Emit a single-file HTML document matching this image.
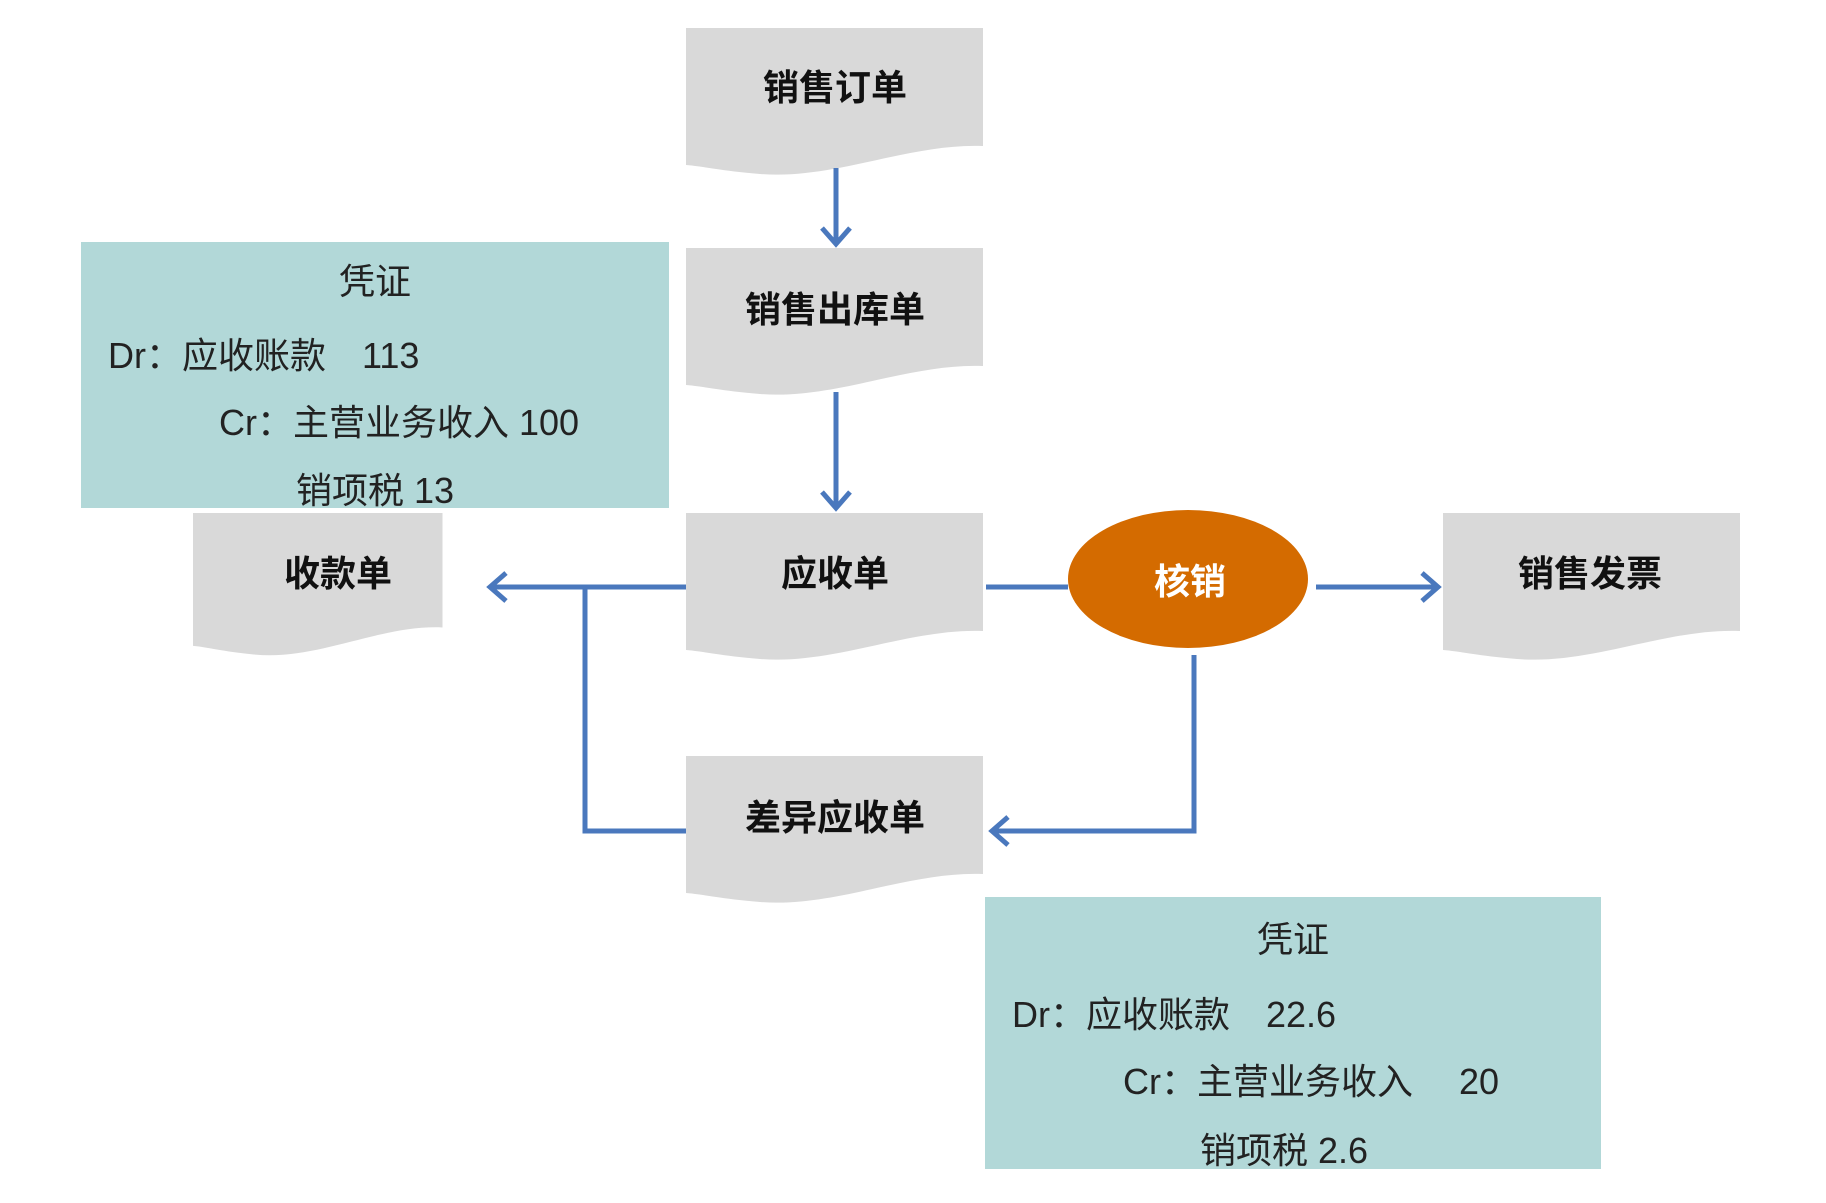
<!DOCTYPE html>
<html><head><meta charset="utf-8"><style>
html,body{margin:0;padding:0;background:#fff;}
svg{display:block}
.d{font-family:"Liberation Sans","Noto Sans CJK SC",sans-serif;font-weight:bold;font-size:36px;fill:#111;text-anchor:middle}
.v{font-family:"Liberation Sans","Noto Sans CJK SC",sans-serif;font-size:36px;fill:#222}
</style></head><body>
<svg width="1826" height="1203" viewBox="0 0 1826 1203" xmlns="http://www.w3.org/2000/svg">
<defs>
<path id="doc" d="M0,0 H297 V118 C223,115 149,152 74,146 C36,143 15,138 0,137 Z" fill="#d9d9d9"/>
<marker id="ah" markerWidth="10" markerHeight="10" refX="8" refY="5" orient="auto" markerUnits="userSpaceOnUse" viewBox="0 0 10 10">
</marker>
</defs>
<!-- vouchers -->
<rect x="81" y="242" width="588" height="266" fill="#b2d8d8"/>
<text class="v" x="375" y="294" text-anchor="middle" font-size="48">凭证</text>
<text class="v" x="108" y="368">Dr：应收账款　113</text>
<text class="v" x="219" y="435">Cr：主营业务收入 100</text>
<text class="v" x="296" y="503">销项税  13</text>

<rect x="985" y="897" width="616" height="272" fill="#b2d8d8"/>
<text class="v" x="1293" y="952" text-anchor="middle" font-size="48">凭证</text>
<text class="v" x="1012" y="1027">Dr：应收账款　22.6</text>
<text class="v" x="1123" y="1094">Cr：主营业务收入　 20</text>
<text class="v" x="1200" y="1163">销项税 2.6</text>

<!-- documents -->
<use href="#doc" x="686" y="28"/>
<text class="d" x="835" y="100">销售订单</text>
<use href="#doc" x="686" y="248"/>
<text class="d" x="835" y="322">销售出库单</text>
<use href="#doc" x="686" y="513"/>
<text class="d" x="835" y="586">应收单</text>
<use href="#doc" x="193" y="513" transform="translate(193,513) scale(0.84,0.97) translate(-193,-513)"/>
<text class="d" x="338" y="586">收款单</text>
<use href="#doc" x="1443" y="513"/>
<text class="d" x="1590" y="586">销售发票</text>
<use href="#doc" x="686" y="756"/>
<text class="d" x="835" y="830">差异应收单</text>

<!-- connectors -->
<g stroke="#4a78bd" stroke-width="5" fill="none" stroke-linejoin="miter">
<line x1="836" y1="168" x2="836" y2="244"/>
<polyline points="822,228 836,244 850,228"/>
<line x1="836" y1="392" x2="836" y2="508"/>
<polyline points="822,492 836,508 850,492"/>
<line x1="686" y1="587" x2="490" y2="587"/>
<polyline points="506,573 490,587 506,601"/>
<polyline points="585,587 585,831 686,831"/>
<line x1="986" y1="587" x2="1068" y2="587"/>
<line x1="1316" y1="587" x2="1438" y2="587"/>
<polyline points="1422,573 1438,587 1422,601"/>
<polyline points="1194,655 1194,831 992,831"/>
<polyline points="1008,817 992,831 1008,845"/>
</g>
<ellipse cx="1188" cy="579" rx="120" ry="69" fill="#d46b00"/>
<text class="d" x="1190" y="594" style="fill:#fff" font-size="40">核销</text>
</svg>
</body></html>
